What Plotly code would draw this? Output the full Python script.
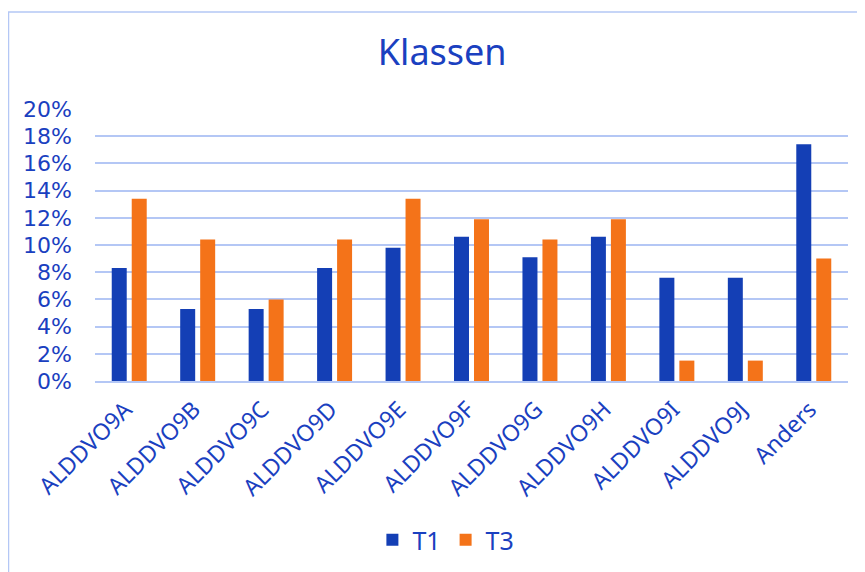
import plotly.graph_objects as go

categories = ["ALDDVO9A", "ALDDVO9B", "ALDDVO9C", "ALDDVO9D", "ALDDVO9E", "ALDDVO9F",
              "ALDDVO9G", "ALDDVO9H", "ALDDVO9I", "ALDDVO9J", "Anders"]
t1 = [8.3, 5.3, 5.3, 8.3, 9.8, 10.6, 9.1, 10.6, 7.6, 7.6, 17.4]
t3 = [13.4, 10.4, 6.0, 10.4, 13.4, 11.9, 10.4, 11.9, 1.5, 1.5, 9.0]
y_ticks = [0, 2, 4, 6, 8, 10, 12, 14, 16, 18, 20]
y_tick_labels = [f"{v}%" for v in y_ticks]

TXT = "#1A40C0"
FONT = "Noto Sans"

fig = go.Figure()
fig.add_trace(go.Bar(name="T1", x=categories, y=t1, marker=dict(color="#143FB5", line=dict(width=0))))
fig.add_trace(go.Bar(name="T3", x=categories, y=t3, marker=dict(color="#F47319", line=dict(width=0))))

L, T, W, H = 87, 101, 753, 272
fig.update_layout(
    width=865, height=572,
    margin=dict(l=L, r=865 - L - W, t=T, b=572 - T - H, autoexpand=False),
    paper_bgcolor="white", plot_bgcolor="white",
    font=dict(family=FONT, color=TXT, size=22),
    title=dict(text="Klassen", x=0.502, xanchor="center", y=1 - 44/572, yanchor="middle",
               font=dict(family=FONT, size=36, color=TXT)),
    barmode="group", bargap=0.416, bargroupgap=0.25,
    showlegend=True,
    legend=dict(orientation="h", x=0.466, xanchor="center", y=-0.585, yanchor="middle",
                font=dict(size=25, color=TXT), traceorder="normal"),
    xaxis=dict(tickangle=-45, showgrid=False, showline=True, linecolor="#B4C7F5", linewidth=2,
               tickfont=dict(size=23, color=TXT), ticks="", ticklabelstandoff=4,
               ticklabelshift=-4),
    yaxis=dict(range=[0, 20], tickvals=y_ticks, ticktext=y_tick_labels,
               showgrid=True, gridcolor="#B4C7F5", gridwidth=2, zeroline=False,
               tickfont=dict(family="DejaVu Sans", size=22, color=TXT), ticks="",
               ticklabelstandoff=22),
    shapes=[dict(type="rect", xref="paper", yref="paper",
                 x0=(0.5 - L)/W, x1=(856 - L)/W, y0=(T + H - 565)/H, y1=(T + H - 4)/H,
                 line=dict(color="#B4C7F5", width=1.5), layer="below")],
)

fig.write_html("out.html")
